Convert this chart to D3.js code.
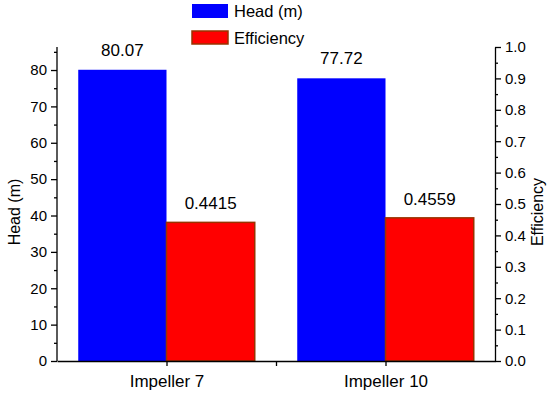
<!DOCTYPE html>
<html><head><meta charset="utf-8">
<script src="https://cdn.jsdelivr.net/npm/d3@7"></script>
<style>body{margin:0;background:#fff}svg{font-family:"Liberation Sans",Arial,sans-serif}</style>
</head><body>
<svg id="c" width="550" height="398"></svg>
<script>
const categories = ["Impeller 7", "Impeller 10"];
const headValues = [80.07, 77.72];
const efficiencyValues = [0.4415, 0.4559];
const headLabels = ["80.07", "77.72"];
const effLabels = ["0.4415", "0.4559"];
const headTicks = [0,10,20,30,40,50,60,70,80];
const effTicks = [0,0.1,0.2,0.3,0.4,0.5,0.6,0.7,0.8,0.9,1.0];

const svg = d3.select("#c");
const L = 57, R = 495, T = 47, B = 361;
const x = d3.scaleLinear().domain([0.5, 2.5]).range([L, R]);
const yH = d3.scaleLinear().domain([0, 86.33]).range([B, T]);
const yE = d3.scaleLinear().domain([0, 1]).range([B, T]);
const bw = (x(2) - x(1)) * 0.403;

// bars
const g = svg.append("g");
g.selectAll("rect.h").data(headValues).join("rect")
  .attr("x", (d,i) => x(i+1) - bw).attr("width", bw)
  .attr("y", d => yH(d)).attr("height", d => B - yH(d))
  .attr("fill", "#0000ff");
g.selectAll("rect.e").data(efficiencyValues).join("rect")
  .attr("x", (d,i) => x(i+1)).attr("width", bw)
  .attr("y", d => yE(d)).attr("height", d => B - yE(d))
  .attr("fill", "#ff0000").attr("stroke", "#993300").attr("stroke-width", 1.5);

// value labels
g.selectAll("text.h").data(headValues).join("text")
  .attr("x", (d,i) => x(i+1) - bw/2).attr("y", d => yH(d) - 14)
  .attr("text-anchor", "middle").attr("font-size", 17).text((d,i) => headLabels[i]);
g.selectAll("text.e").data(efficiencyValues).join("text")
  .attr("x", (d,i) => x(i+1) + bw/2).attr("y", d => yE(d) - 13)
  .attr("text-anchor", "middle").attr("font-size", 17).text((d,i) => effLabels[i]);

// axes
function style(a, fs) {
  a.selectAll("text").attr("font-size", fs).attr("fill", "#000").attr("font-family", "Liberation Sans, Arial, sans-serif");
  a.selectAll("line,path").attr("stroke", "#000").attr("stroke-width", 1.3);
}
const axL = svg.append("g").attr("transform", `translate(${L},0)`)
  .call(d3.axisLeft(yH).tickValues(headTicks).tickSize(6).tickSizeOuter(0).tickPadding(4));
axL.append("g").call(d3.axisLeft(yH).tickValues(d3.range(5, 86, 10)).tickSize(3).tickFormat(""))
  .select("path").remove();
style(axL, 15);
axL.select("path.domain").attr("d", `M0,${T}V${B}`);

const axR = svg.append("g").attr("transform", `translate(${R},0)`)
  .call(d3.axisRight(yE).tickValues(effTicks).tickSize(6).tickSizeOuter(0).tickPadding(4).tickFormat(d3.format(".1f")));
axR.append("g").call(d3.axisRight(yE).tickValues(d3.range(0.05, 1, 0.1)).tickSize(3).tickFormat(""))
  .select("path").remove();
style(axR, 15);

const axB = svg.append("g").attr("transform", `translate(0,${B})`)
  .call(d3.axisBottom(x).tickValues([1, 1.5, 2]).tickSize(5).tickSizeOuter(0).tickPadding(9)
    .tickFormat(d => d === 1 ? categories[0] : d === 2 ? categories[1] : ""));
style(axB, 17);

// axis titles
svg.append("text").attr("transform", `translate(20,${(T+B)/2+8}) rotate(-90)`)
  .attr("text-anchor", "middle").attr("font-size", 16).text("Head (m)");
svg.append("text").attr("transform", `translate(543,${(T+B)/2+8}) rotate(-90)`)
  .attr("text-anchor", "middle").attr("font-size", 16).text("Efficiency");

// legend
const leg = svg.append("g");
leg.append("rect").attr("x", 192).attr("y", 4).attr("width", 36).attr("height", 14).attr("fill", "#0000ff");
leg.append("text").attr("x", 234).attr("y", 17).attr("font-size", 16.5).text("Head (m)");
leg.append("rect").attr("x", 192).attr("y", 31).attr("width", 36).attr("height", 13)
  .attr("fill", "#ff0000").attr("stroke", "#993300").attr("stroke-width", 1.5);
leg.append("text").attr("x", 234).attr("y", 44).attr("font-size", 16.5).text("Efficiency");
</script>
</body></html>
